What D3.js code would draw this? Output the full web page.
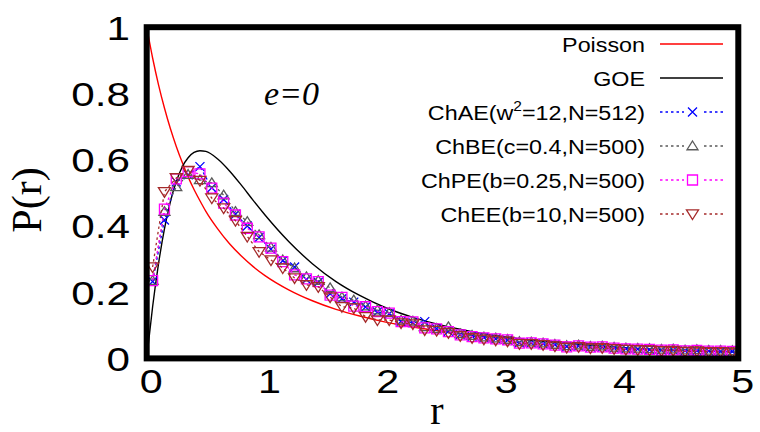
<!DOCTYPE html>
<html><head><meta charset="utf-8">
<script src="https://cdn.jsdelivr.net/npm/d3@7"></script>
<style>body{margin:0;background:#fff}</style>
</head><body>
<svg id="chart" width="760" height="432"></svg>
<script>
// Histogram bin centres of the ratio r
const binCenters = [0.05,0.15,0.25,0.35,0.45,0.55,0.65,0.75,0.85,0.95,
  1.05,1.15,1.25,1.35,1.45,1.55,1.65,1.75,1.85,1.95,
  2.05,2.15,2.25,2.35,2.45,2.55,2.65,2.75,2.85,2.95,
  3.05,3.15,3.25,3.35,3.45,3.55,3.65,3.75,3.85,3.95,
  4.05,4.15,4.25,4.35,4.45,4.55,4.65,4.75,4.85,4.95];

const chAE = [0.232,0.418,0.533,0.554,0.579,0.515,0.480,0.435,0.400,0.365,
  0.330,0.295,0.276,0.238,0.230,0.195,0.180,0.170,0.155,0.140,
  0.135,0.112,0.108,0.111,0.090,0.082,0.072,0.067,0.063,0.059,
  0.055,0.047,0.047,0.044,0.041,0.036,0.037,0.034,0.034,0.031,
  0.029,0.028,0.026,0.025,0.025,0.023,0.023,0.022,0.021,0.021];
const chBE = [0.235,0.443,0.518,0.555,0.539,0.530,0.493,0.443,0.413,0.373,
  0.335,0.297,0.273,0.246,0.235,0.213,0.185,0.176,0.158,0.146,
  0.138,0.115,0.112,0.095,0.090,0.095,0.074,0.069,0.064,0.061,
  0.057,0.050,0.049,0.046,0.042,0.038,0.040,0.036,0.037,0.033,
  0.031,0.030,0.029,0.027,0.028,0.025,0.026,0.024,0.024,0.023];
const chPE = [0.235,0.451,0.542,0.564,0.557,0.514,0.469,0.433,0.393,0.367,
  0.333,0.292,0.252,0.240,0.232,0.191,0.184,0.158,0.156,0.141,
  0.137,0.111,0.110,0.092,0.089,0.081,0.071,0.066,0.062,0.059,
  0.056,0.046,0.047,0.044,0.040,0.035,0.038,0.034,0.035,0.031,
  0.029,0.028,0.027,0.025,0.026,0.023,0.024,0.022,0.022,0.021];
const chEE = [0.276,0.503,0.545,0.567,0.537,0.484,0.454,0.416,0.368,0.322,
  0.297,0.273,0.243,0.222,0.216,0.185,0.156,0.152,0.126,0.116,
  0.116,0.107,0.104,0.086,0.084,0.077,0.068,0.062,0.058,0.055,
  0.052,0.044,0.044,0.041,0.037,0.033,0.035,0.031,0.032,0.029,
  0.027,0.026,0.025,0.023,0.024,0.021,0.022,0.020,0.020,0.019];

// Reference distributions tabulated on a grid of r
const curveR  = [0,0.05,0.1,0.15,0.2,0.25,0.3,0.35,0.4,0.45,0.5,0.6,0.7,0.8,0.9,1,
  1.2,1.4,1.6,1.8,2,2.25,2.5,2.75,3,3.5,4,4.5,5];
const poisson = [1,0.907,0.826,0.756,0.694,0.640,0.592,0.548,0.510,0.476,0.444,0.391,0.346,0.309,0.277,0.25,
  0.207,0.174,0.148,0.128,0.111,0.0947,0.0816,0.0711,0.0625,0.0494,0.04,0.0331,0.0278];
const goe     = [0,0.156,0.286,0.391,0.473,0.534,0.578,0.606,0.622,0.627,0.625,0.602,0.566,0.523,0.477,0.433,
  0.353,0.286,0.232,0.190,0.156,0.124,0.0995,0.0809,0.0665,0.0463,0.0334,0.0248,0.0189];

const xTicks = [0,1,2,3,4,5];
const yTicks = [0,0.2,0.4,0.6,0.8,1];
const yTickLabels = ["0","0.2","0.4","0.6","0.8","1"];

const svg = d3.select("#chart");
const L = 146.7, R = 738.3, T = 27.2, B = 358.4;
const x = d3.scaleLinear().domain([0,5]).range([L,R]);
const y = d3.scaleLinear().domain([0,1]).range([B,T]);

svg.append("defs").append("clipPath").attr("id","plotClip")
  .append("rect").attr("x",L).attr("y",T).attr("width",R-L).attr("height",B-T);

const plot = svg.append("g").attr("clip-path","url(#plotClip)");

// theory curves
const curveLine = d3.line().x(d=>x(d[0])).y(d=>y(d[1])).curve(d3.curveMonotoneX);
plot.append("path").datum(curveR.map((r,i)=>[r,poisson[i]]))
  .attr("d",curveLine).attr("fill","none").attr("stroke","#ff0000").attr("stroke-width",1.4);
plot.append("path").datum(curveR.map((r,i)=>[r,goe[i]]))
  .attr("d",curveLine).attr("fill","none").attr("stroke","#000").attr("stroke-width",1.4);

// marker shapes
const markers = {
  cross: s => `M${-s},${-s}L${s},${s}M${-s},${s}L${s},${-s}`,
  triUp: s => `M0,${-s}L${s*1.1},${s*0.75}L${-s*1.1},${s*0.75}Z`,
  square: s => `M${-s},${-s}H${s}V${s}H${-s}Z`,
  triDown: s => `M0,${s}L${s*1.1},${-s*0.75}L${-s*1.1},${-s*0.75}Z`
};

const series = [
  {name:"ChAE", values:chAE, color:"#0000ff", marker:"cross", size:4.5},
  {name:"ChBE", values:chBE, color:"#5a5a5a", marker:"triUp", size:5},
  {name:"ChPE", values:chPE, color:"#ff00ff", marker:"square", size:5},
  {name:"ChEE", values:chEE, color:"#a52a2a", marker:"triDown", size:5.5}
];

const dataLine = d3.line().x(d=>x(d[0])).y(d=>y(d[1]));
series.forEach(s => {
  const pts = binCenters.map((r,i)=>[r,s.values[i]]);
  plot.append("path").datum(pts).attr("d",dataLine).attr("fill","none")
    .attr("stroke",s.color).attr("stroke-width",1.3).attr("stroke-dasharray","2.5,3");
  plot.append("g").selectAll("path").data(pts).join("path")
    .attr("transform",d=>`translate(${x(d[0])},${y(d[1])})`)
    .attr("d",markers[s.marker](s.size))
    .attr("fill","none").attr("stroke",s.color).attr("stroke-width",1.3);
});

// axes (labels only, the frame is drawn separately)
const xAxis = svg.append("g").attr("transform",`translate(4,${B})`)
  .call(d3.axisBottom(x).tickValues(xTicks).tickSize(0).tickPadding(0).tickFormat(d3.format("d")));
xAxis.select(".domain").remove();
xAxis.selectAll("text").attr("font-family","'Liberation Sans',Arial,sans-serif")
  .attr("font-size",33).attr("fill","#000").attr("dy",null).attr("y",35)
  .attr("transform","scale(1.25,1)").attr("x",0);

const yAxis = svg.append("g").attr("transform",`translate(130,0)`)
  .call(d3.axisLeft(y).tickValues(yTicks).tickSize(0).tickPadding(0).tickFormat((d,i)=>yTickLabels[i]));
yAxis.select(".domain").remove();
yAxis.selectAll("text").attr("font-family","'Liberation Sans',Arial,sans-serif")
  .attr("font-size",33).attr("fill","#000").attr("x",0).attr("dy","0.36em")
  .attr("transform","scale(1.28,1)");

// frame
svg.append("rect").attr("x",L).attr("y",T).attr("width",R-L).attr("height",B-T)
  .attr("fill","none").attr("stroke","#000").attr("stroke-width",6);

// axis titles
svg.append("text").attr("x",437).attr("y",424).attr("text-anchor","middle")
  .attr("font-family","'Liberation Serif','Times New Roman',serif").attr("font-size",40).text("r");
svg.append("text").attr("transform","translate(41,200) rotate(-90)").attr("text-anchor","middle")
  .attr("font-family","'Liberation Serif','Times New Roman',serif").attr("font-size",42).text("P(r)");

// annotation
svg.append("text").attr("x",264).attr("y",105)
  .attr("font-family","'Liberation Serif','Times New Roman',serif").attr("font-style","italic")
  .attr("font-size",34).text("e=0");

// legend
const legend = [
  {label:"Poisson", color:"#ff0000", solid:true},
  {label:"GOE", color:"#000", solid:true},
  {label:"ChAE(w²=12,N=512)", color:"#0000ff", marker:"cross", size:4.5, sup:true},
  {label:"ChBE(c=0.4,N=500)", color:"#5a5a5a", marker:"triUp", size:5},
  {label:"ChPE(b=0.25,N=500)", color:"#ff00ff", marker:"square", size:5},
  {label:"ChEE(b=10,N=500)", color:"#a52a2a", marker:"triDown", size:5.5}
];
const lg = svg.append("g");
legend.forEach((d,i) => {
  const base = 52 + 34*i, mid = base - 8;
  const t = lg.append("text").attr("transform",`translate(645,${base}) scale(1.11,1)`)
    .attr("text-anchor","end")
    .attr("font-family","'Liberation Sans',Arial,sans-serif").attr("font-size",21);
  if (d.sup) {
    t.append("tspan").text("ChAE(w");
    t.append("tspan").attr("font-size",14).attr("dy",-9).text("2");
    t.append("tspan").attr("dy",9).text("=12,N=512)");
  } else t.text(d.label);
  lg.append("line").attr("x1",660).attr("x2",723).attr("y1",mid).attr("y2",mid)
    .attr("stroke",d.color).attr("stroke-width",d.solid?1.4:1.3)
    .attr("stroke-dasharray",d.solid?null:"2.5,3");
  if (d.marker) {
    lg.append("rect").attr("x",684).attr("y",mid-7).attr("width",17).attr("height",14).attr("fill","#fff");
    lg.append("path").attr("transform",`translate(692.5,${mid})`).attr("d",markers[d.marker](d.size))
      .attr("fill","none").attr("stroke",d.color).attr("stroke-width",1.3);
  }
});
</script>
</body></html>
